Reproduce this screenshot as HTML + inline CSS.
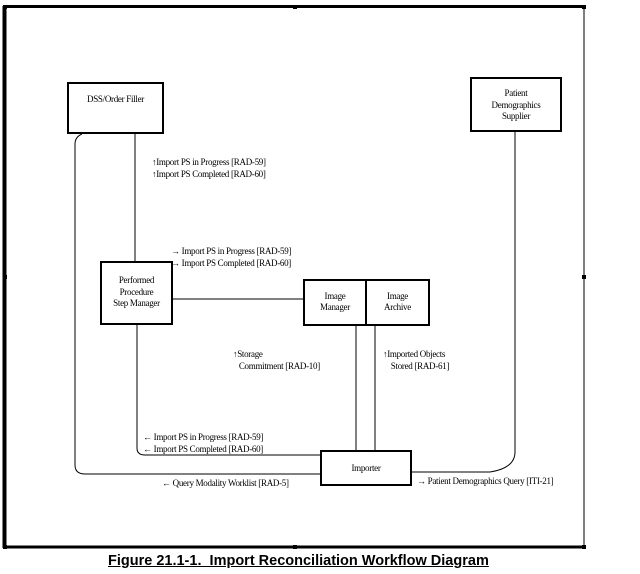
<!DOCTYPE html>
<html><head><style>
body{margin:0;width:640px;height:574px;background:#fff;position:relative;overflow:hidden;font-family:"Liberation Serif",serif;}
.t{position:absolute;font-size:9px;line-height:12px;color:#000;white-space:nowrap;letter-spacing:-0.3px}
.c{text-align:center}
.cap{position:absolute;left:108px;top:553px;font:bold 14.5px "Liberation Sans",sans-serif;text-decoration:underline;white-space:nowrap}
</style></head><body>
<svg width="640" height="574" style="position:absolute;left:0;top:0">
<g fill="none" stroke="#000">
<path d="M4.5 6 V548" stroke-width="4"/>
<path d="M3 6.5 H584" stroke-width="3"/>
<path d="M3 547 H584" stroke-width="3"/>
<path d="M584 6 V548" stroke-width="1"/>
<g stroke-width="2">
<rect x="68" y="83" width="95" height="50"/>
<rect x="471" y="78" width="90" height="53"/>
<rect x="101" y="262" width="71" height="62"/>
<rect x="304" y="280" width="62" height="45"/>
<rect x="366" y="280" width="63" height="45"/>
<rect x="321" y="451" width="90" height="34"/>
</g>
<g stroke-width="1">
<path d="M135 134 V262"/>
<path d="M82 134 Q75 137 75 144 V465 Q75 474 85 474 H321"/>
<path d="M137 325 V448 Q137 455 145 455 H321"/>
<path d="M172 299 H304"/>
<path d="M356 326 V451 M375 326 V451"/>
<path d="M515 132 V452 Q515 468 490 472 H411"/>
</g>
</g>
<g fill="#000">
<rect x="3" y="5" width="4" height="4"/><rect x="293" y="5" width="4" height="4"/><rect x="582" y="5" width="4" height="4"/>
<rect x="3" y="275" width="4" height="4"/><rect x="582" y="275" width="4" height="4"/>
<rect x="3" y="545" width="4" height="4"/><rect x="293" y="545" width="4" height="4"/><rect x="582" y="545" width="4" height="4"/>
</g>
</svg>
<div class="t c" style="left:68px;top:93px;width:95px">DSS/Order Filler</div>
<div class="t c" style="left:471px;top:88px;width:90px;line-height:11.5px">Patient<br>Demographics<br>Supplier</div>
<div class="t c" style="left:101px;top:275px;width:71px;line-height:11.5px">Performed<br>Procedure<br>Step Manager</div>
<div class="t c" style="left:304px;top:291px;width:62px;line-height:11px">Image<br>Manager</div>
<div class="t c" style="left:366px;top:291px;width:63px;line-height:11px">Image<br>Archive</div>
<div class="t c" style="left:321px;top:462px;width:90px">Importer</div>
<div class="t" style="left:152px;top:156px">↑Import PS in Progress [RAD-59]<br>↑Import PS Completed [RAD-60]</div>
<div class="t" style="left:171px;top:245px">→ Import PS in Progress [RAD-59]<br>→ Import PS Completed [RAD-60]</div>
<div class="t" style="left:233px;top:348px">↑Storage<br>&nbsp;&nbsp;&nbsp;Commitment [RAD-10]</div>
<div class="t" style="left:383px;top:348px">↑Imported Objects<br>&nbsp;&nbsp;&nbsp;&nbsp;Stored [RAD-61]</div>
<div class="t" style="left:143px;top:431px">← Import PS in Progress [RAD-59]<br>← Import PS Completed [RAD-60]</div>
<div class="t" style="left:162px;top:477px">← Query Modality Worklist [RAD-5]</div>
<div class="t" style="left:417px;top:475px">→ Patient Demographics Query [ITI-21]</div>
<div class="cap">Figure 21.1-1.&nbsp; Import Reconciliation Workflow Diagram</div>
</body></html>
